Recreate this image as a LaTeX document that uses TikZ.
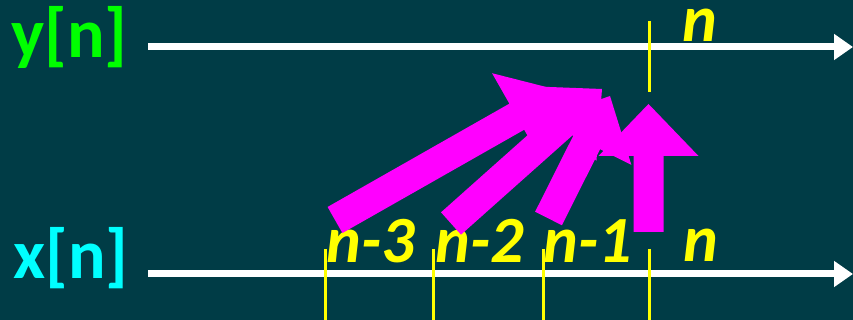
\documentclass[tikz,border=0pt]{standalone}
\usepackage{fontspec}
\setmainfont{Carlito}
\usetikzlibrary{calc,arrows.meta}
\definecolor{bg}{RGB}{0,60,70}
\definecolor{lblgreen}{RGB}{0,255,0}
\definecolor{lblcyan}{RGB}{0,255,255}
\definecolor{tickyellow}{RGB}{255,255,0}
\definecolor{fatmag}{RGB}{255,0,255}
\newcommand\fatarrow[2]{%
  \fill[fatmag] let \p1=(#1), \p2=(#2),
     \n1={atan2(\y2-\y1,\x2-\x1)},
     \n2={veclen(\x2-\x1,\y2-\y1)-52} in
   ($(#1)+(\n1-90:15)$) --
   ($(#1)+(\n1:\n2)+(\n1-90:15)$) --
   ($(#1)+(\n1:\n2)+(\n1-90:50)$) --
   (#2) --
   ($(#1)+(\n1:\n2)+(\n1+90:50)$) --
   ($(#1)+(\n1:\n2)+(\n1+90:15)$) --
   ($(#1)+(\n1+90:15)$) -- cycle;}
\begin{document}
\begin{tikzpicture}[x=1pt,y=1pt,
  axis/.style={white, line width=7pt, -{Triangle[length=19pt,width=25pt]}},
  tick/.style={tickyellow, line width=3pt},
  sig/.style={inner sep=0pt, anchor=base, font=\fontsize{70}{70}\selectfont\bfseries},
  idx/.style={inner sep=0pt, anchor=base, text height=34pt, text=tickyellow, font=\fontsize{66}{66}\selectfont\bfseries\itshape}]
\fill[bg] (0,0) rectangle (853,320);
\useasboundingbox (0,0) rectangle (853,320);
% axes
\coordinate (ys) at (148,273); \coordinate (ye) at (853,273);
\coordinate (xs) at (148,46);  \coordinate (xe) at (853,46);
\draw[axis] (ys) -- (ye);
\draw[axis] (xs) -- (xe);
% ticks
\coordinate (t3a) at (325,71); \coordinate (t3b) at (325,0);
\coordinate (t2a) at (433,71); \coordinate (t2b) at (433,0);
\coordinate (t1a) at (543,71); \coordinate (t1b) at (543,0);
\coordinate (t0a) at (649,71); \coordinate (t0b) at (649,0);
\coordinate (tya) at (649,299); \coordinate (tyb) at (649,228);
\draw[tick] (t3a) -- (t3b);
\draw[tick] (t2a) -- (t2b);
\draw[tick] (t1a) -- (t1b);
\draw[tick] (t0a) -- (t0b);
\draw[tick] (tya) -- (tyb);
% labels
\node[sig, text=lblgreen] (ylab) at (69.5,262) {y[n]};
\node[sig, text=lblcyan] (xlab) at (71,41) {x[n]};
\node[idx] (l3) at (371,57) {n-3};
\node[idx] (l2) at (480,57) {n-2};
\node[idx] (l1) at (588,57) {n-1};
\node[idx] (l0) at (701,58) {n};
\node[idx] (ln) at (700,278) {n};
% fat arrows
\coordinate (a1t) at (335,100);   \coordinate (a1h) at (562,229);
\coordinate (a2t) at (451,96.5);  \coordinate (a2h) at (602,231);
\coordinate (a3t) at (548.5,101.5); \coordinate (a3h) at (610,224);
\coordinate (a4t) at (648.5,88);  \coordinate (a4h) at (648.5,216);
\fatarrow{a1t}{a1h}
\fatarrow{a2t}{a2h}
\fatarrow{a3t}{a3h}
\fatarrow{a4t}{a4h}
\end{tikzpicture}
\end{document}
